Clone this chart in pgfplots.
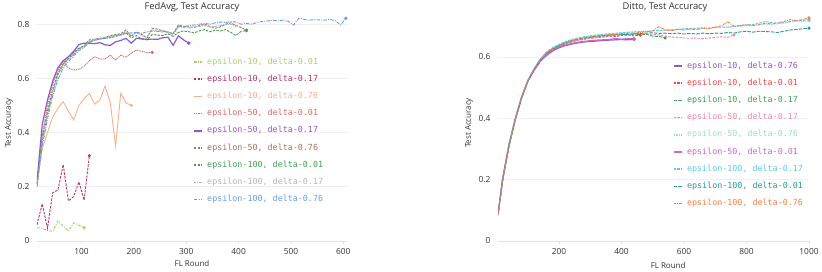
\documentclass[border=0pt]{standalone}
\usepackage{pgfplots}
\pgfplotsset{compat=1.18}
\usepackage{fontspec}
\setmainfont{Open Sans}
\newfontfamily\monofont{DejaVu Sans Mono}
\definecolor{lgA}{HTML}{A6CF6E}
\definecolor{lgB}{HTML}{B5326F}
\definecolor{lgC}{HTML}{F5B08E}
\definecolor{lgD}{HTML}{E06464}
\definecolor{lgE}{HTML}{8A5CC9}
\definecolor{lgF}{HTML}{A8705C}
\definecolor{lgG}{HTML}{3E9E4E}
\definecolor{lgH}{HTML}{B4B4B4}
\definecolor{lgI}{HTML}{6A9BE2}
\definecolor{rgA}{HTML}{8A5CC9}
\definecolor{rgB}{HTML}{E8474B}
\definecolor{rgC}{HTML}{3E9E5A}
\definecolor{rgD}{HTML}{F088A8}
\definecolor{rgE}{HTML}{9EDCCF}
\definecolor{rgF}{HTML}{CC66CC}
\definecolor{rgG}{HTML}{5CC8E8}
\definecolor{rgH}{HTML}{2A9A8A}
\definecolor{rgI}{HTML}{F07F4A}
\definecolor{axgray}{HTML}{E2E2E2}
\definecolor{gridgray}{HTML}{F0F0F0}
\definecolor{txt}{HTML}{333333}
\pgfplotsset{
  myax/.style={
    scale only axis, anchor=south west, enlargelimits=false,
    axis x line*=bottom, axis y line*=left,
    y axis line style={draw=none},
    x axis line style={draw=axgray, line width=0.8bp},
    ymajorgrids, grid style={draw=gridgray, line width=0.7bp},
    ytick style={draw=none},
    xtick style={draw=axgray, line width=0.6bp},
    major tick length=3bp, tick align=outside,
    /pgf/number format/assume math mode=true,
    /pgf/number format/1000 sep={},
    tick label style={font=\fontsize{8.4}{9}\selectfont, text=txt},
    yticklabel style={xshift=-1bp},
    xticklabel style={yshift=-1bp},
    label style={font=\fontsize{8}{9}\selectfont, text=txt},
    title style={font=\fontsize{9.4}{10}\selectfont, text=txt, anchor=center},
    ylabel style={anchor=center},
    xlabel style={anchor=center},
    ytick={0,0.2,0.4,0.6,0.8},
    legend style={draw=none, fill=none, anchor=north west, inner sep=0pt,
      font=\monofont\fontsize{8.4}{9}\selectfont,
      nodes={inner sep=0pt, text height=6.2bp, text depth=1.8bp},
      row sep=9.2bp, column sep=4.5bp},
    legend cell align=left,
    legend image code/.code={\draw[##1, line width=1.6bp] (0bp,0bp) -- (8bp,0bp);},
    every axis plot/.append style={line width=0.9bp, mark size=1.1bp, mark options={solid}},
  }
}
\begin{document}
\begin{tikzpicture}
\useasboundingbox (0,0) rectangle (822bp,272bp);
\begin{axis}[myax, at={(37bp,31bp)}, width=310bp, height=226bp,
  xmin=15, xmax=607, ymin=0, ymax=0.834,
  xtick={100,200,300,400,500,600},
  title={FedAvg, Test Accuracy}, title style={at={(0.5,1)}, yshift=1.7bp},
  xlabel={FL Round}, xlabel style={at={(0.5,0)}, yshift=-22.7bp},
  ylabel={Test Accuracy}, ylabel style={at={(-0.09,0.522)}},
  legend style={at={(0.503,0.811)}},
]
\addplot[lgA, dash pattern=on 3bp off 1.2bp on 1bp off 1.2bp, mark=*, mark indices={10}] coordinates {
(15,0.049)(25,0.047)(35,0.038)(45,0.036)(55,0.074)(65,0.055)(75,0.036)(85,0.068)(95,0.058)(105,0.049)};
\addlegendentry{\textcolor{lgA}{epsilon-10, delta-0.01}}
\addplot[lgB, dash pattern=on 2.5bp off 1.2bp, mark=*, mark indices={11}] coordinates {
(15,0.06)(25,0.137)(35,0.047)(45,0.178)(55,0.188)(65,0.282)(75,0.148)(85,0.164)(95,0.218)(105,0.151)(115,0.315)};
\addlegendentry{\textcolor{lgB}{epsilon-10, delta-0.17}}
\addplot[lgC, solid, mark=*, mark indices={19}] coordinates {
(15,0.22)(25,0.34)(35,0.40)(45,0.458)(55,0.49)(65,0.514)(75,0.48)(85,0.446)(95,0.50)(105,0.525)(115,0.545)(125,0.505)(135,0.52)(145,0.572)(155,0.51)(165,0.35)(175,0.545)(185,0.51)(195,0.50)};
\addlegendentry{\textcolor{lgC}{epsilon-10, delta-0.76}}
\addplot[lgD, dash pattern=on 1bp off 0.8bp, mark=*, mark indices={23}] coordinates {
(15,0.21)(25,0.39)(35,0.50)(45,0.58)(55,0.63)(65,0.665)(75,0.637)(85,0.631)(95,0.633)(105,0.645)(115,0.665)(125,0.68)(135,0.672)(145,0.672)(155,0.686)(165,0.668)(175,0.686)(185,0.678)(195,0.693)(205,0.705)(215,0.70)(225,0.695)(235,0.696)};
\addlegendentry{\textcolor{lgD}{epsilon-50, delta-0.01}}
\addplot[lgE, solid, line width=1.2bp, mark=*, mark indices={30}] coordinates {
(15,0.22)(25,0.43)(35,0.52)(45,0.59)(55,0.64)(65,0.665)(75,0.68)(85,0.70)(95,0.725)(105,0.73)(115,0.73)(125,0.728)(135,0.732)(145,0.724)(155,0.722)(165,0.735)(175,0.74)(185,0.748)(195,0.73)(205,0.748)(215,0.746)(225,0.744)(235,0.745)(245,0.744)(255,0.75)(265,0.752)(275,0.722)(285,0.757)(295,0.742)(305,0.73)};
\addlegendentry{\textcolor{lgE}{epsilon-50, delta-0.17}}
\addplot[lgF, dash pattern=on 2.5bp off 1.2bp, mark=*, mark indices={41}] coordinates {
(15,0.21)(25,0.38)(35,0.48)(45,0.56)(55,0.62)(65,0.655)(75,0.675)(85,0.695)(95,0.712)(105,0.72)(115,0.742)(125,0.745)(135,0.748)(145,0.752)(155,0.758)(165,0.762)(175,0.765)(185,0.779)(195,0.755)(205,0.772)(215,0.762)(225,0.748)(235,0.785)(245,0.782)(255,0.775)(265,0.77)(275,0.766)(285,0.797)(295,0.792)(305,0.79)(315,0.788)(325,0.795)(335,0.80)(345,0.792)(355,0.785)(365,0.79)(375,0.80)(385,0.805)(395,0.795)(405,0.788)(415,0.778)};
\addlegendentry{\textcolor{lgF}{epsilon-50, delta-0.76}}
\addplot[lgG, dash pattern=on 2.5bp off 1.2bp, mark=*, mark indices={41}] coordinates {
(15,0.21)(25,0.37)(35,0.47)(45,0.55)(55,0.615)(65,0.65)(75,0.672)(85,0.69)(95,0.71)(105,0.72)(115,0.735)(125,0.742)(135,0.745)(145,0.748)(155,0.75)(165,0.755)(175,0.76)(185,0.768)(195,0.75)(205,0.758)(215,0.745)(225,0.742)(235,0.762)(245,0.76)(255,0.758)(265,0.765)(275,0.755)(285,0.77)(295,0.775)(305,0.772)(315,0.768)(325,0.775)(335,0.78)(345,0.772)(355,0.778)(365,0.775)(375,0.78)(385,0.77)(395,0.758)(405,0.774)(415,0.776)};
\addlegendentry{\textcolor{lgG}{epsilon-100, delta-0.01}}
\addplot[lgH, dash pattern=on 2.5bp off 1bp on 0.8bp off 1bp] coordinates {
(15,0.20)(25,0.37)(35,0.47)(45,0.55)(55,0.612)(65,0.65)(75,0.67)(85,0.69)(95,0.708)(105,0.718)(115,0.738)(125,0.744)(135,0.747)(145,0.75)(155,0.755)(165,0.76)(175,0.762)(185,0.772)(195,0.76)(205,0.768)(215,0.758)(225,0.755)(235,0.778)(245,0.775)(255,0.77)(265,0.772)(275,0.765)(285,0.79)(295,0.788)(305,0.786)(315,0.79)(325,0.792)(335,0.795)(345,0.79)(355,0.792)(365,0.795)(375,0.798)(385,0.80)(395,0.792)};
\addlegendentry{\textcolor{lgH}{epsilon-100, delta-0.17}}
\addplot[lgI, dash pattern=on 3.5bp off 1.2bp on 1bp off 1.2bp, mark=*, mark indices={60}] coordinates {
(15,0.20)(25,0.35)(35,0.45)(45,0.535)(55,0.595)(65,0.64)(75,0.662)(85,0.683)(95,0.703)(105,0.715)(115,0.733)(125,0.74)(135,0.745)(145,0.748)(155,0.752)(165,0.758)(175,0.762)(185,0.765)(195,0.768)(205,0.77)(215,0.766)(225,0.772)(235,0.775)(245,0.773)(255,0.776)(265,0.772)(275,0.762)(285,0.793)(295,0.79)(305,0.795)(315,0.797)(325,0.80)(335,0.803)(345,0.80)(355,0.805)(365,0.808)(375,0.806)(385,0.81)(395,0.808)(405,0.80)(415,0.803)(425,0.80)(435,0.806)(445,0.81)(455,0.812)(465,0.815)(475,0.812)(485,0.815)(495,0.81)(505,0.797)(515,0.822)(525,0.818)(535,0.815)(545,0.817)(555,0.816)(565,0.815)(575,0.818)(585,0.812)(595,0.797)(605,0.822)};
\addlegendentry{\textcolor{lgI}{epsilon-100, delta-0.76}}
\end{axis}

\begin{axis}[myax, at={(498bp,31bp)}, width=311bp, height=226bp,
  xmin=5, xmax=1000, ymin=0, ymax=0.737,
  xtick={200,400,600,800,1000},
  ytick={0,0.2,0.4,0.6},
  title={Ditto, Test Accuracy}, title style={at={(0.537,1)}, yshift=1.7bp},
  xlabel={FL Round}, xlabel style={at={(0.547,0)}, yshift=-25bp},
  ylabel={Test Accuracy}, ylabel style={at={(-0.093,0.522)}},
  legend style={at={(0.562,0.793)}},
]
\addplot[rgA, solid, line width=1.2bp, mark=*, mark indices={23}] coordinates {
(5,0.085)(20,0.20)(40,0.31)(60,0.395)(80,0.465)(100,0.52)(120,0.556)(140,0.585)(160,0.605)(180,0.62)(200,0.63)(220,0.637)(240,0.642)(260,0.646)(280,0.649)(300,0.651)(320,0.652)(340,0.654)(360,0.655)(380,0.656)(400,0.657)(420,0.656)(440,0.658)};
\addlegendentry{\textcolor{rgA}{epsilon-10, delta-0.76}}
\addplot[rgB, dash pattern=on 2.5bp off 1.2bp, mark=*, mark indices={24}] coordinates {
(5,0.087)(20,0.203)(40,0.312)(60,0.397)(80,0.467)(100,0.522)(120,0.56)(140,0.59)(160,0.61)(180,0.625)(200,0.635)(220,0.643)(240,0.649)(260,0.654)(280,0.658)(300,0.661)(320,0.663)(340,0.665)(360,0.668)(380,0.667)(400,0.670)(420,0.672)(440,0.669)(460,0.671)};
\addlegendentry{\textcolor{rgB}{epsilon-10, delta-0.01}}
\addplot[rgC, dash pattern=on 3.5bp off 1bp, mark=*, mark indices={28}] coordinates {
(5,0.086)(20,0.20)(40,0.31)(60,0.396)(80,0.466)(100,0.521)(120,0.56)(140,0.592)(160,0.614)(180,0.628)(200,0.638)(220,0.647)(240,0.654)(260,0.659)(280,0.663)(300,0.666)(320,0.668)(340,0.670)(360,0.672)(380,0.673)(400,0.675)(420,0.673)(440,0.676)(460,0.672)(480,0.674)(500,0.668)(520,0.667)(540,0.662)};
\addlegendentry{\textcolor{rgC}{epsilon-10, delta-0.17}}
\addplot[rgD, dash pattern=on 2.5bp off 1.2bp, mark=*, mark indices={39}] coordinates {
(5,0.085)(20,0.198)(40,0.308)(60,0.394)(80,0.464)(100,0.519)(120,0.557)(140,0.588)(160,0.61)(180,0.624)(200,0.634)(220,0.642)(240,0.649)(260,0.654)(280,0.658)(300,0.661)(320,0.664)(340,0.667)(360,0.669)(380,0.671)(400,0.672)(420,0.673)(440,0.674)(460,0.676)(480,0.675)(500,0.674)(520,0.672)(540,0.668)(560,0.665)(580,0.664)(600,0.662)(620,0.661)(640,0.662)(660,0.660)(680,0.662)(700,0.664)(720,0.666)(740,0.664)(760,0.672)};
\addlegendentry{\textcolor{rgD}{epsilon-50, delta-0.17}}
\addplot[rgE, dash pattern=on 1bp off 0.8bp, mark=*, mark indices={51}] coordinates {
(5,0.087)(20,0.202)(40,0.312)(60,0.397)(80,0.467)(100,0.522)(120,0.56)(140,0.592)(160,0.615)(180,0.63)(200,0.64)(220,0.649)(240,0.656)(260,0.661)(280,0.665)(300,0.668)(320,0.671)(340,0.673)(360,0.675)(380,0.677)(400,0.678)(420,0.680)(440,0.681)(460,0.682)(480,0.684)(500,0.685)(520,0.686)(540,0.687)(560,0.688)(580,0.689)(600,0.690)(620,0.690)(640,0.692)(660,0.693)(680,0.694)(700,0.695)(720,0.696)(740,0.698)(760,0.699)(780,0.700)(800,0.702)(820,0.703)(840,0.705)(860,0.707)(880,0.706)(900,0.708)(920,0.710)(940,0.713)(960,0.716)(980,0.715)(1000,0.718)};
\addlegendentry{\textcolor{rgE}{epsilon-50, delta-0.76}}
\addplot[rgF, solid, line width=1.2bp, mark=*, mark indices={23}] coordinates {
(5,0.088)(20,0.205)(40,0.315)(60,0.398)(80,0.468)(100,0.522)(120,0.558)(140,0.587)(160,0.607)(180,0.622)(200,0.632)(220,0.639)(240,0.644)(260,0.648)(280,0.651)(300,0.653)(320,0.655)(340,0.656)(360,0.657)(380,0.66)(400,0.658)(420,0.66)(440,0.659)};
\addlegendentry{\textcolor{rgF}{epsilon-50, delta-0.01}}
\addplot[rgG, dash pattern=on 2.5bp off 1.2bp, mark=*, mark indices={51}] coordinates {
(5,0.088)(20,0.204)(40,0.314)(60,0.399)(80,0.469)(100,0.524)(120,0.562)(140,0.594)(160,0.616)(180,0.631)(200,0.641)(220,0.65)(240,0.657)(260,0.662)(280,0.666)(300,0.669)(320,0.672)(340,0.674)(360,0.676)(380,0.678)(400,0.679)(420,0.681)(440,0.682)(460,0.683)(480,0.684)(500,0.685)(520,0.687)(540,0.688)(560,0.689)(580,0.690)(600,0.692)(620,0.693)(640,0.694)(660,0.695)(680,0.694)(700,0.697)(720,0.698)(740,0.697)(760,0.700)(780,0.702)(800,0.704)(820,0.706)(840,0.710)(860,0.716)(880,0.712)(900,0.710)(920,0.713)(940,0.716)(960,0.72)(980,0.719)(1000,0.722)};
\addlegendentry{\textcolor{rgG}{epsilon-100, delta-0.17}}
\addplot[rgH, dash pattern=on 3.5bp off 1.2bp, mark=*, mark indices={51}] coordinates {
(5,0.086)(20,0.20)(40,0.31)(60,0.395)(80,0.465)(100,0.52)(120,0.558)(140,0.59)(160,0.612)(180,0.626)(200,0.636)(220,0.645)(240,0.652)(260,0.657)(280,0.661)(300,0.664)(320,0.667)(340,0.669)(360,0.671)(380,0.672)(400,0.673)(420,0.674)(440,0.675)(460,0.677)(480,0.678)(500,0.679)(520,0.677)(540,0.678)(560,0.676)(580,0.678)(600,0.675)(620,0.677)(640,0.675)(660,0.678)(680,0.676)(700,0.678)(720,0.677)(740,0.680)(760,0.678)(780,0.682)(800,0.684)(820,0.681)(840,0.684)(860,0.683)(880,0.682)(900,0.680)(920,0.684)(940,0.688)(960,0.690)(980,0.692)(1000,0.694)};
\addlegendentry{\textcolor{rgH}{epsilon-100, delta-0.01}}
\addplot[rgI, dash pattern=on 2.5bp off 1bp on 0.8bp off 1bp, mark=*, mark indices={51}] coordinates {
(5,0.086)(20,0.201)(40,0.311)(60,0.396)(80,0.466)(100,0.521)(120,0.559)(140,0.591)(160,0.613)(180,0.628)(200,0.638)(220,0.646)(240,0.653)(260,0.658)(280,0.662)(300,0.665)(320,0.668)(340,0.670)(360,0.672)(380,0.674)(400,0.676)(420,0.677)(440,0.678)(460,0.680)(480,0.683)(500,0.685)(520,0.699)(540,0.688)(560,0.686)(580,0.690)(600,0.688)(620,0.692)(640,0.689)(660,0.694)(680,0.692)(700,0.698)(720,0.702)(740,0.715)(760,0.700)(780,0.703)(800,0.706)(820,0.702)(840,0.706)(860,0.71)(880,0.708)(900,0.712)(920,0.716)(940,0.722)(960,0.718)(980,0.722)(1000,0.728)};
\addlegendentry{\textcolor{rgI}{epsilon-100, delta-0.76}}
\end{axis}
\end{tikzpicture}
\end{document}
